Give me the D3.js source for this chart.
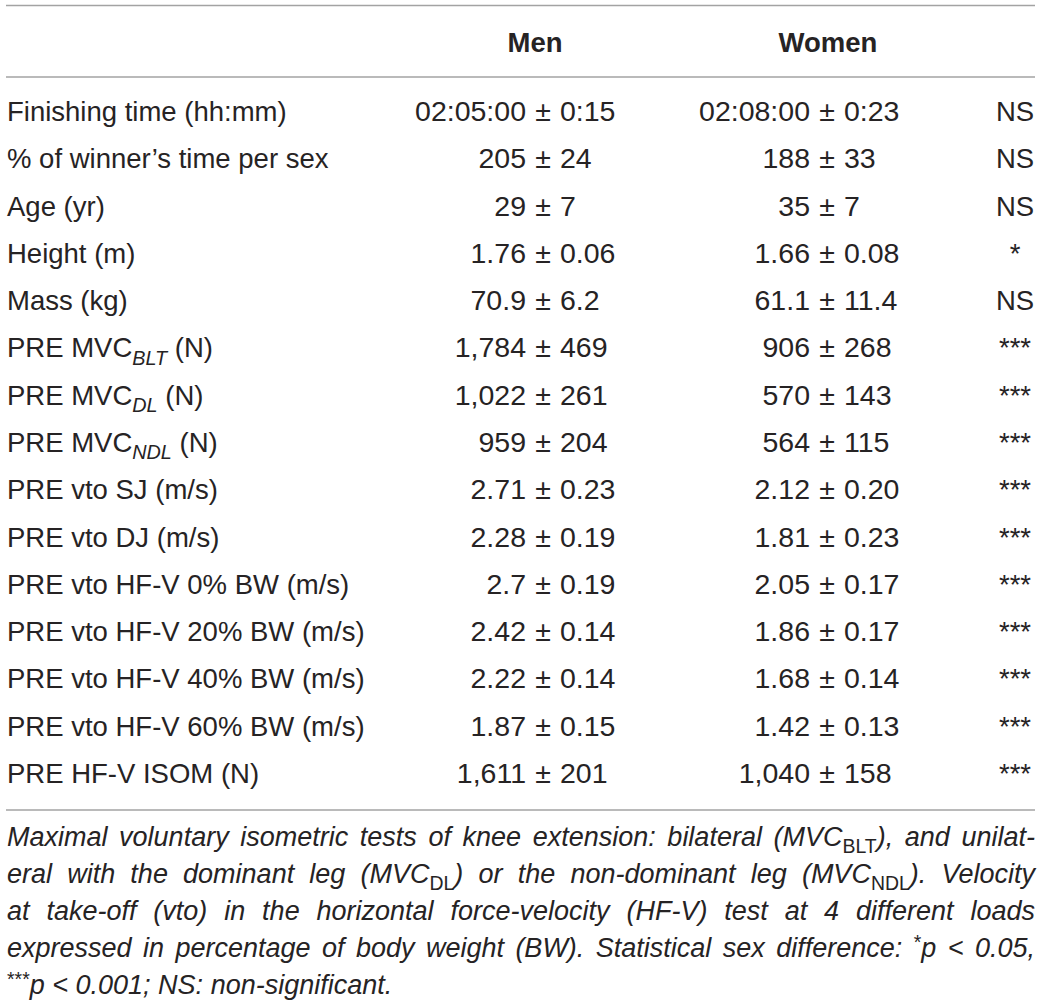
<!doctype html>
<html>
  <head>
    <meta charset="utf-8" />
    <title>Men vs women table</title>
    <style>
      html, body { margin: 0; padding: 0; background: #fff; }
      svg text { font-family: "Liberation Sans", Arial, sans-serif; fill: #262324; }
    </style>
  </head>
  <body>
    <div id="table"></div>
    <script src="https://cdn.jsdelivr.net/npm/d3@7"></script>
    <script>
      // table content
      var rowLabels = [
        "Finishing time (hh:mm)",
        "% of winner\u2019s time per sex",
        "Age (yr)",
        "Height (m)",
        "Mass (kg)",
        "PRE MVC_{BLT} (N)",
        "PRE MVC_{DL} (N)",
        "PRE MVC_{NDL} (N)",
        "PRE vto SJ (m/s)",
        "PRE vto DJ (m/s)",
        "PRE vto HF-V 0% BW (m/s)",
        "PRE vto HF-V 20% BW (m/s)",
        "PRE vto HF-V 40% BW (m/s)",
        "PRE vto HF-V 60% BW (m/s)",
        "PRE HF-V ISOM (N)"
      ];
      var menMean = ["02:05:00", "205", "29", "1.76", "70.9", "1,784", "1,022", "959",
                     "2.71", "2.28", "2.7", "2.42", "2.22", "1.87", "1,611"];
      var menSD = ["0:15", "24", "7", "0.06", "6.2", "469", "261", "204",
                   "0.23", "0.19", "0.19", "0.14", "0.14", "0.15", "201"];
      var womenMean = ["02:08:00", "188", "35", "1.66", "61.1", "906", "570", "564",
                       "2.12", "1.81", "2.05", "1.86", "1.68", "1.42", "1,040"];
      var womenSD = ["0:23", "33", "7", "0.08", "11.4", "268", "143", "115",
                     "0.20", "0.23", "0.17", "0.17", "0.14", "0.13", "158"];
      var significance = ["NS", "NS", "NS", "*", "NS", "***", "***", "***",
                          "***", "***", "***", "***", "***", "***", "***"];
      var groups = ["Men", "Women"];
      var footnoteLines = [
        "Maximal voluntary isometric tests of knee extension: bilateral (MVC_{BLT}), and unilat-",
        "eral with the dominant leg (MVC_{DL}) or the non-dominant leg (MVC_{NDL}). Velocity",
        "at take-off (vto) in the horizontal force-velocity (HF-V) test at 4 different loads",
        "expressed in percentage of body weight (BW). Statistical sex difference: ^{*}p < 0.05,",
        "^{***}p < 0.001; NS: non-significant."
      ];

      var width = 1041, height = 1008;
      var left = 6, right = 1035;

      var svg = d3.select("#table").append("svg")
                  .attr("width", width)
                  .attr("height", height);

      // split "abc_{sub}def^{sup}" into pieces
      function parse(s) {
        var out = [], re = /([_^])\{([^}]*)\}/g, last = 0, m;
        while ((m = re.exec(s)) !== null) {
          if (m.index > last) out.push({t: s.slice(last, m.index), k: ""});
          out.push({t: m[2], k: m[1] === "_" ? "sub" : "sup"});
          last = re.lastIndex;
        }
        if (last < s.length) out.push({t: s.slice(last), k: ""});
        return out;
      }

      // write pieces into a text node; subStyle is the font-style of sub/sup
      function fill(text, s, size, subStyle) {
        var shift = 0;
        parse(s).forEach(function(p) {
          var want = p.k === "sub" ? size * 0.26 : (p.k === "sup" ? -size * 0.3 : 0);
          var ts = text.append("tspan")
                       .attr("dy", want - shift)
                       .text(p.t);
          if (p.k) {
            ts.style("font-size", (size * 0.72) + "px");
            if (subStyle) ts.style("font-style", subStyle);
          }
          shift = want;
        });
      }

      var y = d3.scaleLinear()
                .domain([0, rowLabels.length - 1])
                .range([121, 783]);

      // x of the ± sign in each group, and header centres
      var pm = d3.scaleOrdinal().domain(groups).range([543, 827]);
      var head = d3.scaleOrdinal().domain(groups).range([535, 828]);
      var sigX = 1015;
      var fs = 27.5;     // labels
      var vs = 28.5;     // values

      // rules
      var rules = [5.5, 77, 810];
      svg.selectAll("line.rule")
         .data(rules)
         .enter().append("line")
         .attr("class", "rule")
         .attr("x1", left).attr("x2", right)
         .attr("y1", function(d) { return d; })
         .attr("y2", function(d) { return d; })
         .style("stroke", "#a3a3a3")
         .style("stroke-width", 1.6);

      // headers
      svg.selectAll("text.head")
         .data(groups)
         .enter().append("text")
         .attr("class", "head")
         .attr("x", function(d) { return head(d); })
         .attr("y", 52)
         .style("font-size", fs + "px")
         .style("font-weight", "bold")
         .style("text-anchor", "middle")
         .text(function(d) { return d; });

      // row labels
      svg.selectAll("text.label")
         .data(rowLabels)
         .enter().append("text")
         .attr("class", "label")
         .attr("x", 7)
         .attr("y", function(d, i) { return y(i); })
         .style("font-size", fs + "px")
         .each(function(d) { fill(d3.select(this), d, fs, "italic"); });

      // value cells: mean, ±, sd
      var cols = [
        {g: "Men", mean: menMean, sd: menSD},
        {g: "Women", mean: womenMean, sd: womenSD}
      ];
      cols.forEach(function(c) {
        var cell = svg.selectAll("g.cell-" + c.g)
                      .data(c.mean)
                      .enter().append("g")
                      .attr("class", "cell-" + c.g)
                      .attr("transform", function(d, i) {
                        return "translate(" + pm(c.g) + "," + y(i) + ")";
                      })
                      .style("font-size", vs + "px");
        cell.append("text")
            .attr("x", -17)
            .style("text-anchor", "end")
            .text(function(d) { return d; });
        cell.append("text")
            .style("text-anchor", "middle")
            .text("\u00b1");
        cell.append("text")
            .attr("x", 17)
            .text(function(d, i) { return c.sd[i]; });
      });

      // significance column
      svg.selectAll("text.sig")
         .data(significance)
         .enter().append("text")
         .attr("class", "sig")
         .attr("x", sigX)
         .attr("y", function(d, i) { return y(i); })
         .style("font-size", fs + "px")
         .style("text-anchor", "middle")
         .text(function(d) { return d; });

      // footnote, justified except last line
      var fnSize = 27;
      var fy = d3.scaleLinear()
                 .domain([0, footnoteLines.length - 1])
                 .range([846, 994]);

      footnoteLines.forEach(function(line, li) {
        var words = line.split(" ");
        var g = svg.append("g")
                   .attr("transform", "translate(0," + fy(li) + ")")
                   .style("font-size", fnSize + "px")
                   .style("font-style", "italic");
        var nodes = words.map(function(w) {
          var t = g.append("text").attr("x", 0);
          fill(t, w, fnSize, "normal");
          return t;
        });
        var widths = nodes.map(function(t) { return t.node().getComputedTextLength(); });
        var total = d3.sum(widths);
        var gap = fnSize * 0.278;
        if (li < footnoteLines.length - 1) {
          gap = Math.max(fnSize * 0.15, (right - 7 - total) / (words.length - 1));
        }
        var x = 7;
        nodes.forEach(function(t, i) {
          t.attr("x", x);
          x += widths[i] + gap;
        });
      });
    </script>
  </body>
</html>
